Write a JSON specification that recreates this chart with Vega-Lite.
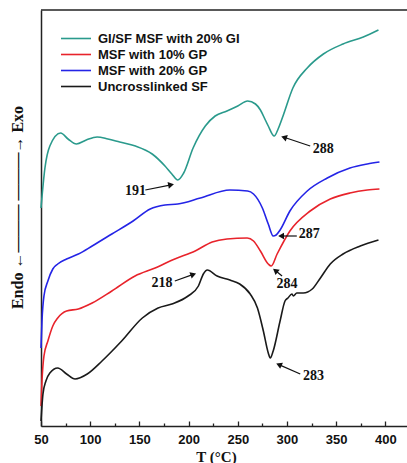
{
  "$schema": "https://vega.github.io/schema/vega-lite/v6.json",
  "autosize": "none",
  "padding": {"left": 41, "top": 10, "right": 0, "bottom": 37},
  "width": 366,
  "height": 416,
  "background": "white",
  "config": {
    "view": {"stroke": null},
    "axis": {"domainColor": "#222", "domainWidth": 1.5, "tickColor": "#222", "grid": false}
  },
  "datasets": {
    "curves": [
      {"s": "GI/SF MSF with 20% GI", "T": 50, "y": 218},
      {"s": "GI/SF MSF with 20% GI", "T": 54, "y": 258},
      {"s": "GI/SF MSF with 20% GI", "T": 59, "y": 280},
      {"s": "GI/SF MSF with 20% GI", "T": 70, "y": 293},
      {"s": "GI/SF MSF with 20% GI", "T": 77.5, "y": 287},
      {"s": "GI/SF MSF with 20% GI", "T": 86, "y": 282},
      {"s": "GI/SF MSF with 20% GI", "T": 96, "y": 286},
      {"s": "GI/SF MSF with 20% GI", "T": 107, "y": 289},
      {"s": "GI/SF MSF with 20% GI", "T": 118, "y": 287},
      {"s": "GI/SF MSF with 20% GI", "T": 130, "y": 284},
      {"s": "GI/SF MSF with 20% GI", "T": 146, "y": 280},
      {"s": "GI/SF MSF with 20% GI", "T": 163, "y": 272},
      {"s": "GI/SF MSF with 20% GI", "T": 176, "y": 260},
      {"s": "GI/SF MSF with 20% GI", "T": 183, "y": 252},
      {"s": "GI/SF MSF with 20% GI", "T": 189, "y": 246},
      {"s": "GI/SF MSF with 20% GI", "T": 195, "y": 253},
      {"s": "GI/SF MSF with 20% GI", "T": 204.6, "y": 278},
      {"s": "GI/SF MSF with 20% GI", "T": 217, "y": 300},
      {"s": "GI/SF MSF with 20% GI", "T": 227, "y": 310},
      {"s": "GI/SF MSF with 20% GI", "T": 239, "y": 315},
      {"s": "GI/SF MSF with 20% GI", "T": 250, "y": 320},
      {"s": "GI/SF MSF with 20% GI", "T": 260, "y": 325},
      {"s": "GI/SF MSF with 20% GI", "T": 268, "y": 322},
      {"s": "GI/SF MSF with 20% GI", "T": 273, "y": 316},
      {"s": "GI/SF MSF with 20% GI", "T": 278, "y": 306},
      {"s": "GI/SF MSF with 20% GI", "T": 281, "y": 300},
      {"s": "GI/SF MSF with 20% GI", "T": 287, "y": 290},
      {"s": "GI/SF MSF with 20% GI", "T": 291, "y": 297},
      {"s": "GI/SF MSF with 20% GI", "T": 296, "y": 310},
      {"s": "GI/SF MSF with 20% GI", "T": 306, "y": 338},
      {"s": "GI/SF MSF with 20% GI", "T": 320.6, "y": 358},
      {"s": "GI/SF MSF with 20% GI", "T": 337, "y": 372},
      {"s": "GI/SF MSF with 20% GI", "T": 357, "y": 382},
      {"s": "GI/SF MSF with 20% GI", "T": 377.6, "y": 389},
      {"s": "GI/SF MSF with 20% GI", "T": 393, "y": 396},
      {"s": "MSF with 20% GP", "T": 50, "y": 78},
      {"s": "MSF with 20% GP", "T": 51, "y": 105},
      {"s": "MSF with 20% GP", "T": 53, "y": 130},
      {"s": "MSF with 20% GP", "T": 57, "y": 145},
      {"s": "MSF with 20% GP", "T": 62, "y": 157},
      {"s": "MSF with 20% GP", "T": 67, "y": 162},
      {"s": "MSF with 20% GP", "T": 76, "y": 167},
      {"s": "MSF with 20% GP", "T": 88, "y": 172},
      {"s": "MSF with 20% GP", "T": 102, "y": 180},
      {"s": "MSF with 20% GP", "T": 122, "y": 192},
      {"s": "MSF with 20% GP", "T": 143.6, "y": 205},
      {"s": "MSF with 20% GP", "T": 161, "y": 217},
      {"s": "MSF with 20% GP", "T": 176, "y": 221},
      {"s": "MSF with 20% GP", "T": 189, "y": 222},
      {"s": "MSF with 20% GP", "T": 212, "y": 228},
      {"s": "MSF with 20% GP", "T": 242, "y": 236},
      {"s": "MSF with 20% GP", "T": 260, "y": 235},
      {"s": "MSF with 20% GP", "T": 266, "y": 232},
      {"s": "MSF with 20% GP", "T": 275, "y": 218},
      {"s": "MSF with 20% GP", "T": 281, "y": 202},
      {"s": "MSF with 20% GP", "T": 286, "y": 190},
      {"s": "MSF with 20% GP", "T": 289, "y": 191},
      {"s": "MSF with 20% GP", "T": 293, "y": 196},
      {"s": "MSF with 20% GP", "T": 303, "y": 215},
      {"s": "MSF with 20% GP", "T": 320.6, "y": 235},
      {"s": "MSF with 20% GP", "T": 341, "y": 248},
      {"s": "MSF with 20% GP", "T": 364, "y": 258},
      {"s": "MSF with 20% GP", "T": 381.6, "y": 262},
      {"s": "MSF with 20% GP", "T": 394, "y": 264},
      {"s": "MSF with 10% GP", "T": 50, "y": 20},
      {"s": "MSF with 10% GP", "T": 51, "y": 45},
      {"s": "MSF with 10% GP", "T": 53, "y": 70},
      {"s": "MSF with 10% GP", "T": 57, "y": 85},
      {"s": "MSF with 10% GP", "T": 62, "y": 100},
      {"s": "MSF with 10% GP", "T": 67, "y": 108},
      {"s": "MSF with 10% GP", "T": 76, "y": 115},
      {"s": "MSF with 10% GP", "T": 88, "y": 117},
      {"s": "MSF with 10% GP", "T": 102, "y": 123},
      {"s": "MSF with 10% GP", "T": 122, "y": 135},
      {"s": "MSF with 10% GP", "T": 145.6, "y": 150},
      {"s": "MSF with 10% GP", "T": 166, "y": 158},
      {"s": "MSF with 10% GP", "T": 186, "y": 167},
      {"s": "MSF with 10% GP", "T": 206.7, "y": 175},
      {"s": "MSF with 10% GP", "T": 224, "y": 184},
      {"s": "MSF with 10% GP", "T": 239, "y": 187},
      {"s": "MSF with 10% GP", "T": 259.6, "y": 188},
      {"s": "MSF with 10% GP", "T": 266, "y": 185},
      {"s": "MSF with 10% GP", "T": 273, "y": 175},
      {"s": "MSF with 10% GP", "T": 281, "y": 162},
      {"s": "MSF with 10% GP", "T": 284, "y": 160},
      {"s": "MSF with 10% GP", "T": 290, "y": 172},
      {"s": "MSF with 10% GP", "T": 303, "y": 195},
      {"s": "MSF with 10% GP", "T": 323.6, "y": 215},
      {"s": "MSF with 10% GP", "T": 344, "y": 227},
      {"s": "MSF with 10% GP", "T": 364, "y": 233},
      {"s": "MSF with 10% GP", "T": 381.6, "y": 236},
      {"s": "MSF with 10% GP", "T": 394, "y": 237},
      {"s": "Uncrosslinked SF", "T": 50, "y": 5},
      {"s": "Uncrosslinked SF", "T": 52, "y": 32},
      {"s": "Uncrosslinked SF", "T": 55, "y": 45},
      {"s": "Uncrosslinked SF", "T": 59, "y": 53},
      {"s": "Uncrosslinked SF", "T": 67, "y": 58},
      {"s": "Uncrosslinked SF", "T": 76, "y": 52},
      {"s": "Uncrosslinked SF", "T": 84.6, "y": 47},
      {"s": "Uncrosslinked SF", "T": 97, "y": 52},
      {"s": "Uncrosslinked SF", "T": 112, "y": 65},
      {"s": "Uncrosslinked SF", "T": 132, "y": 85},
      {"s": "Uncrosslinked SF", "T": 153, "y": 108},
      {"s": "Uncrosslinked SF", "T": 169, "y": 118},
      {"s": "Uncrosslinked SF", "T": 183, "y": 122},
      {"s": "Uncrosslinked SF", "T": 199.5, "y": 130},
      {"s": "Uncrosslinked SF", "T": 210, "y": 140},
      {"s": "Uncrosslinked SF", "T": 215, "y": 152},
      {"s": "Uncrosslinked SF", "T": 219, "y": 156},
      {"s": "Uncrosslinked SF", "T": 229, "y": 150},
      {"s": "Uncrosslinked SF", "T": 242, "y": 146},
      {"s": "Uncrosslinked SF", "T": 252, "y": 142},
      {"s": "Uncrosslinked SF", "T": 262.6, "y": 132},
      {"s": "Uncrosslinked SF", "T": 270, "y": 118},
      {"s": "Uncrosslinked SF", "T": 276, "y": 95},
      {"s": "Uncrosslinked SF", "T": 281, "y": 73},
      {"s": "Uncrosslinked SF", "T": 283, "y": 68},
      {"s": "Uncrosslinked SF", "T": 286, "y": 75},
      {"s": "Uncrosslinked SF", "T": 293, "y": 105},
      {"s": "Uncrosslinked SF", "T": 298, "y": 125},
      {"s": "Uncrosslinked SF", "T": 301, "y": 128},
      {"s": "Uncrosslinked SF", "T": 305, "y": 132},
      {"s": "Uncrosslinked SF", "T": 306.5, "y": 130},
      {"s": "Uncrosslinked SF", "T": 310, "y": 133},
      {"s": "Uncrosslinked SF", "T": 316.5, "y": 133},
      {"s": "Uncrosslinked SF", "T": 325.7, "y": 137},
      {"s": "Uncrosslinked SF", "T": 334, "y": 148},
      {"s": "Uncrosslinked SF", "T": 344, "y": 162},
      {"s": "Uncrosslinked SF", "T": 357, "y": 172},
      {"s": "Uncrosslinked SF", "T": 374.5, "y": 180},
      {"s": "Uncrosslinked SF", "T": 393, "y": 186}
    ],
    "labels": [
      {"label": "191", "T": 146, "y": 235},
      {"label": "288", "T": 337, "y": 277},
      {"label": "287", "T": 322.6, "y": 192},
      {"label": "284", "T": 300, "y": 142},
      {"label": "218", "T": 173, "y": 143},
      {"label": "283", "T": 327, "y": 50}
    ],
    "arrows": [
      {"label": "191", "T": 156, "y": 236, "T2": 182.2, "y2": 241.2, "dir": 79},
      {"label": "288", "T": 323.6, "y": 280, "T2": 297, "y2": 288.7, "dir": 288},
      {"label": "287", "T": 310, "y": 190, "T2": 294, "y2": 190, "dir": 270},
      {"label": "284", "T": 295, "y": 150, "T2": 288.2, "y2": 155.5, "dir": 309},
      {"label": "218", "T": 186, "y": 145, "T2": 204.8, "y2": 151.6, "dir": 70},
      {"label": "283", "T": 313.5, "y": 52, "T2": 291.8, "y2": 61.4, "dir": 294}
    ]
  },
  "layer": [
    {
      "data": {"name": "curves"},
      "mark": {"type": "line", "strokeWidth": 1.6, "interpolate": "monotone"},
      "encoding": {
        "x": {
          "field": "T", "type": "quantitative",
          "scale": {"domain": [50, 422], "nice": false, "zero": false},
          "axis": {
            "orient": "bottom", "values": [50, 100, 150, 200, 250, 300, 350, 400],
            "tickSize": -5, "tickWidth": 1.3, "labelPadding": 12, "labelFlush": false,
            "labelFont": "Liberation Sans", "labelFontWeight": "bold", "labelFontSize": 13, "labelColor": "#111",
            "title": "T (°C)", "titleFont": "Liberation Serif", "titleFontWeight": "bold", "titleFontSize": 15, "titleColor": "#111",
            "titleX": 175, "titlePadding": 3
          }
        },
        "y": {
          "field": "y", "type": "quantitative",
          "scale": {"domain": [0, 416], "nice": false, "zero": false},
          "axis": {
            "orient": "left", "ticks": false, "labels": false,
            "title": "Endo   ←———  ———→ Exo",
            "titleFont": "Liberation Serif", "titleFontWeight": "bold", "titleFontSize": 16, "titleColor": "#111",
            "titleX": -24, "titleY": 197, "titleAngle": -90, "titleAlign": "center", "titleBaseline": "middle"
          }
        },
        "color": {
          "field": "s", "type": "nominal",
          "scale": {
            "domain": ["GI/SF MSF with 20% GI", "MSF with 10% GP", "MSF with 20% GP", "Uncrosslinked SF"],
            "range": ["#2a9a8c", "#e8232b", "#2424e6", "#1a1a1a"]
          },
          "legend": {
            "title": null, "orient": "none", "legendX": 26.5, "legendY": 20,
            "symbolType": "M-2,0L2,0", "symbolSize": 225, "symbolStrokeWidth": 1.6,
            "rowPadding": -2.3, "labelOffset": 13.5,
            "labelFont": "Liberation Sans", "labelFontWeight": "bold", "labelFontSize": 13, "labelColor": "#111"
          }
        }
      }
    },
    {
      "data": {"values": [{"edge": 416}]},
      "mark": {"type": "rule", "strokeWidth": 1.6, "color": "#222"},
      "encoding": {
        "y": {"field": "edge", "type": "quantitative"}
      }
    },
    {
      "data": {"name": "labels"},
      "mark": {"type": "text", "font": "Liberation Serif", "fontWeight": "bold", "fontSize": 14, "color": "#111", "align": "center", "baseline": "middle"},
      "encoding": {
        "x": {"field": "T", "type": "quantitative", "axis": null},
        "y": {"field": "y", "type": "quantitative"},
        "text": {"field": "label"}
      }
    },
    {
      "data": {"name": "arrows"},
      "mark": {"type": "rule", "strokeWidth": 1.2, "color": "#111"},
      "encoding": {
        "x": {
          "field": "T", "type": "quantitative",
          "axis": {"orient": "bottom", "values": [75, 125, 175, 225, 275, 325, 375], "tickSize": -3, "tickWidth": 1.3, "labels": false, "domain": false, "title": null}
        },
        "y": {"field": "y", "type": "quantitative"},
        "x2": {"field": "T2"},
        "y2": {"field": "y2"}
      }
    },
    {
      "data": {"name": "arrows"},
      "mark": {"type": "point", "shape": "triangle-up", "filled": true, "size": 45, "color": "#111", "opacity": 1},
      "encoding": {
        "x": {"field": "T2", "type": "quantitative", "axis": null},
        "y": {"field": "y2", "type": "quantitative"},
        "angle": {"field": "dir", "type": "quantitative", "scale": null}
      }
    }
  ],
  "resolve": {"axis": {"x": "independent"}}
}
